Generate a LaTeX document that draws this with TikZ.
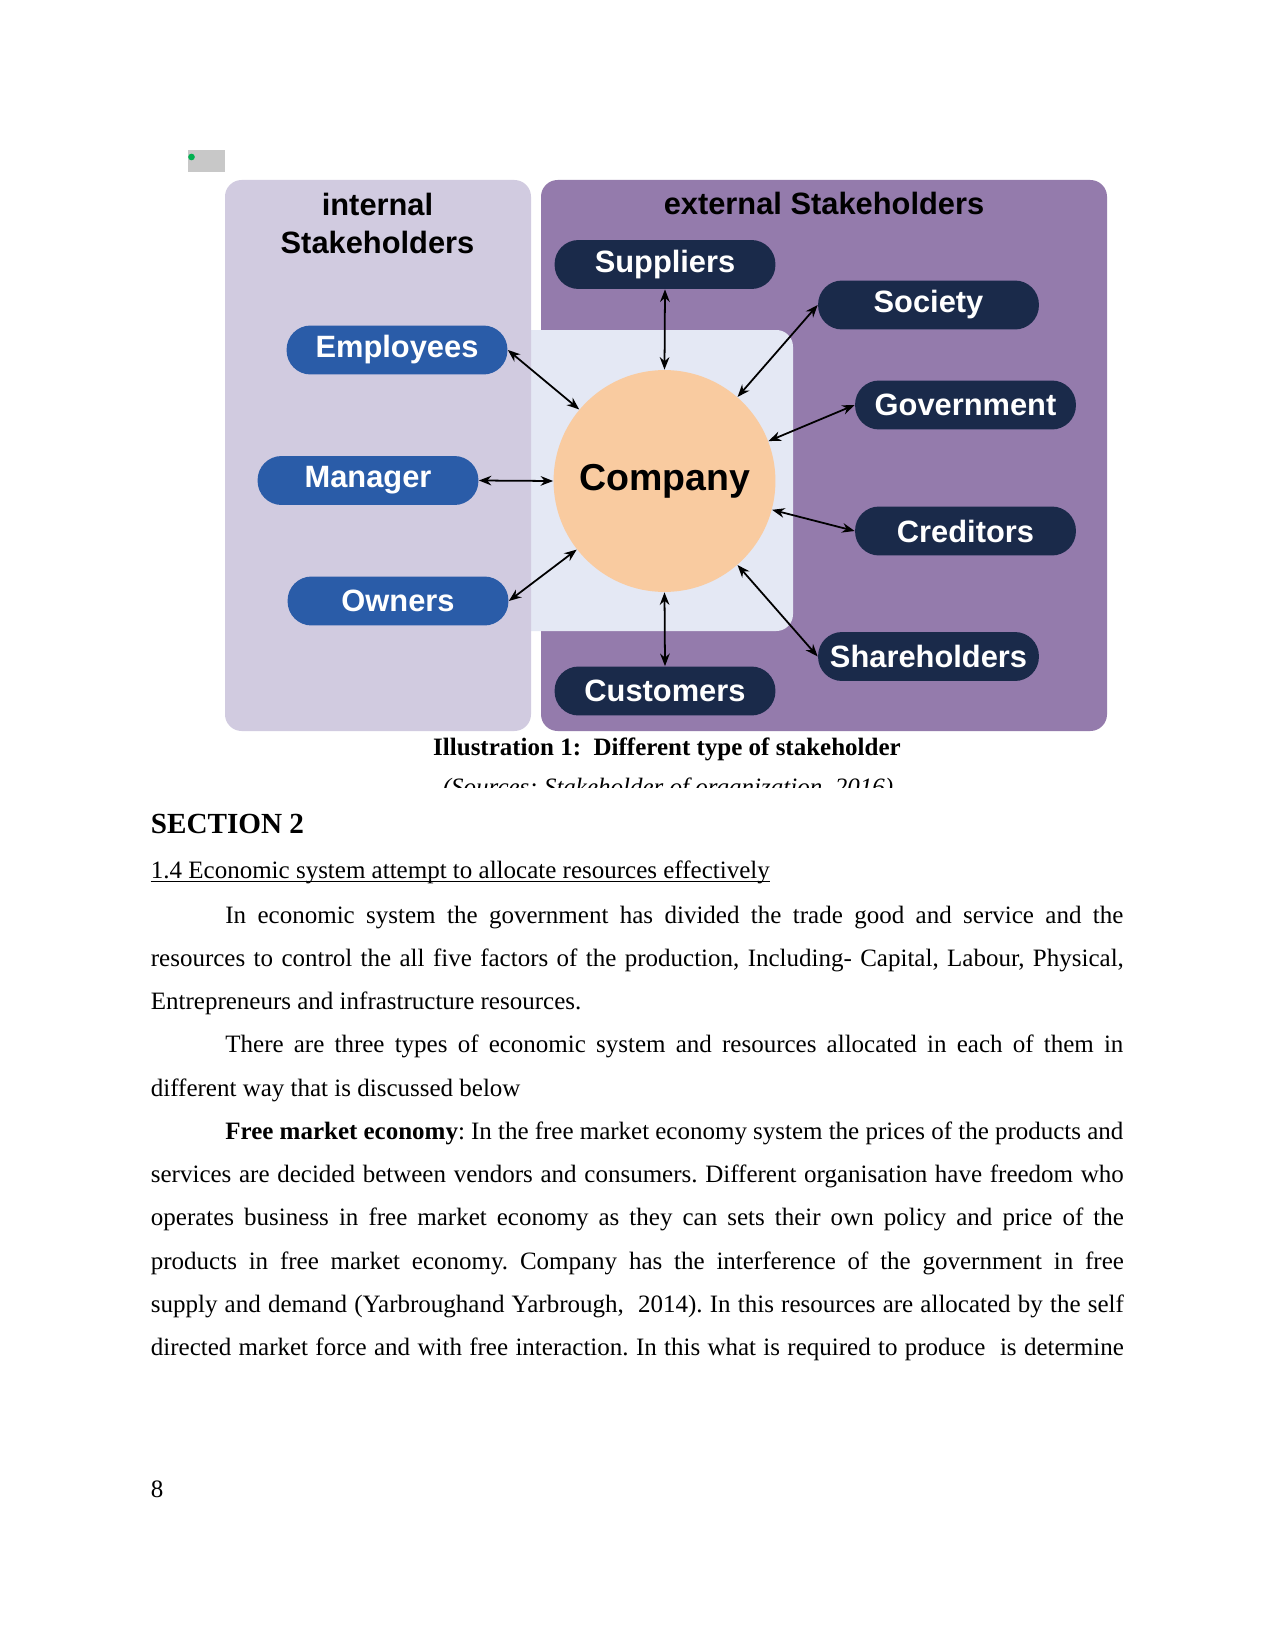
\documentclass[tikz,border=0pt]{standalone}
\usepackage{fontspec}
\setmainfont{Liberation Serif}
\setsansfont{Liberation Sans}
\usetikzlibrary{arrows.meta}
\definecolor{intpanel}{HTML}{D1CBE0}
\definecolor{extpanel}{HTML}{947BAC}
\definecolor{hubpanel}{HTML}{E4E8F4}
\definecolor{intblue}{HTML}{2A5CA8}
\definecolor{extnavy}{HTML}{1A2A4A}
\definecolor{hubpeach}{HTML}{F9CBA0}
\definecolor{markgray}{HTML}{C8C8C8}
\definecolor{markgreen}{HTML}{00B050}
\newcommand{\fullline}[1]{\makebox[467pt][s]{#1}}
\newcommand{\indline}[1]{\makebox[431pt][s]{#1}}
\frenchspacing

\begin{document}
\begin{tikzpicture}[x=0.48pt,y=-0.48pt,
  intbox/.style={fill=intblue,text=white,rounded corners=11.5pt,minimum width=106pt,
    minimum height=23.5pt,inner sep=0pt,font=\sffamily\bfseries\fontsize{14.8}{17}\selectfont},
  extbox/.style={intbox,fill=extnavy},
  hub/.style={circle,fill=hubpeach,minimum size=106.5pt,inner sep=0pt,
    font=\sffamily\bfseries\fontsize{18}{21}\selectfont},
  paneltitle/.style={anchor=base,inner sep=0pt,font=\sffamily\bfseries\fontsize{14.8}{18.3}\selectfont},
  arr/.style={{Stealth[length=6pt,width=4.6pt]}-{Stealth[length=6pt,width=4.6pt]},line width=0.85pt},
  body/.style={anchor=base west,inner sep=0pt,font=\fontsize{12}{14}\selectfont}]
 \fill[white] (0,0) rectangle (1275,1651);
 \useasboundingbox (0,0) rectangle (1275,1651);

 \fill[markgray] (188,150) rectangle (225,172);
 \fill[markgreen] (191.5,157) circle (1.6pt);

 \fill[extpanel,rounded corners=8pt] (541,180) rectangle (1107,731);
 \fill[hubpanel,rounded corners=8pt] (500,330) rectangle (793,631);
 \fill[intpanel,rounded corners=8pt] (225,180) rectangle (531,731);

 \node[paneltitle] (intlabel) at (377.5,215.5) {internal};
 \node[paneltitle] (intlabelb) at (377.5,254) {Stakeholders};
 \node[paneltitle] (extlabel) at (824,214.5) {external Stakeholders};

 \node[hub] (company) at (664.5,481) {Company};

 \node[intbox] (employees) at (397,350) {Employees};
 \node[intbox] (manager) at (368,480.5) {Manager};
 \node[intbox] (owners) at (398,601) {Owners};

 \node[extbox] (suppliers) at (665,264.5) {Suppliers};
 \node[extbox] (society) at (928.5,305) {Society};
 \node[extbox] (government) at (965.5,405) {Government};
 \node[extbox] (creditors) at (965.5,531) {Creditors};
 \node[extbox] (shareholders) at (928.5,656.5) {Shareholders};
 \node[extbox] (customers) at (665,691) {Customers};

 \draw[arr] (employees.east) -- (company.140);
 \draw[arr] (manager.east) -- (company.west);
 \draw[arr] (owners.east) -- (company.218);
 \draw[arr] (suppliers.south) -- (company.north);
 \draw[arr] (society.west) -- (company.49);
 \draw[arr] (government.west) -- (company.21);
 \draw[arr] (creditors.west) -- (company.-15);
 \draw[arr] (shareholders.west) -- (company.-49);
 \draw[arr] (customers.north) -- (company.south);

 \node[anchor=base,inner sep=0pt,font=\bfseries\fontsize{12}{14}\selectfont] (caption) at (667,755)
   {Illustration 1:\ \ Different type of stakeholder};
 \begin{scope}
  \clip (300,760) rectangle (1000,787.5);
  \node[anchor=base,inner sep=0pt,font=\itshape\fontsize{12}{14}\selectfont] (source) at (668,795)
    {(Sources: Stakeholder of organization, 2016)};
 \end{scope}

 \node[anchor=base west,inner sep=0pt,font=\bfseries\fontsize{14}{16}\selectfont] (section) at (150.5,833) {SECTION 2};
 \node[body] (subhead) at (150.5,878.5) {1.4 Economic system attempt to allocate resources effectively};
 \draw[line width=0.6pt] ([yshift=-1.6pt]subhead.base west) -- ([yshift=-1.6pt]subhead.base east);

 \node[body] (l1) at (225,923) {\indline{In economic system the government has divided the trade good and service and the}};
 \node[body] (l2) at (150.5,966.25) {\fullline{resources to control the all five factors of the production, Including- Capital, Labour, Physical,}};
 \node[body] (l3) at (150.5,1009.5) {Entrepreneurs and infrastructure resources.};
 \node[body] (l4) at (225,1052.75) {\indline{There are three types of economic system and resources allocated in each of them in}};
 \node[body] (l5) at (150.5,1096) {different way that is discussed below};
 \node[body] (l6) at (225,1139.25) {\indline{\textbf{Free market economy}: In the free market economy system the prices of the products and}};
 \node[body] (l7) at (150.5,1182.5) {\fullline{services are decided between vendors and consumers. Different organisation have freedom who}};
 \node[body] (l8) at (150.5,1225.75) {\fullline{operates business in free market economy as they can sets their own policy and price of the}};
 \node[body] (l9) at (150.5,1269) {\fullline{products in free market economy. Company has the interference of the government in free}};
 \node[body] (l10) at (150.5,1312.25) {\fullline{supply and demand (Yarbroughand Yarbrough,\ \ 2014). In this resources are allocated by the self}};
 \node[body] (l11) at (150.5,1355.5) {\fullline{directed market force and with free interaction. In this what is required to produce\ \ is determine}};

 \node[body] (pagenum) at (150.5,1497) {8};
\end{tikzpicture}
\end{document}
